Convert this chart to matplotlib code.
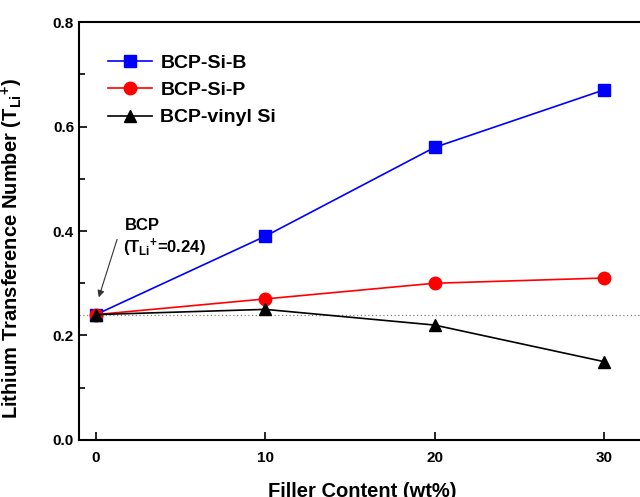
import matplotlib
matplotlib.use("Agg")
import matplotlib.pyplot as plt
from matplotlib.ticker import MultipleLocator

# Data
filler = [0, 10, 20, 30]
si_b = [0.24, 0.39, 0.56, 0.67]
si_p = [0.24, 0.27, 0.30, 0.31]
vinyl_si = [0.24, 0.25, 0.22, 0.15]
bcp_value = 0.24

plt.rcParams['font.family'] = 'Liberation Sans'
plt.rcParams['font.weight'] = 'bold'
plt.rcParams['mathtext.fontset'] = 'custom'
plt.rcParams['mathtext.rm'] = 'Liberation Sans:bold'
plt.rcParams['mathtext.it'] = 'Liberation Sans:bold'
plt.rcParams['mathtext.bf'] = 'Liberation Sans:bold'

fig = plt.figure(figsize=(6.4, 4.97), dpi=100)
# axes run a little past the right edge, like the cropped original
ax = fig.add_axes([0.1234, 0.1147, 0.881, 0.841])

# Reference line for plain BCP
ax.axhline(bcp_value, color='gray', linestyle=(0, (1, 2)), linewidth=0.9)

ax.plot(filler, si_b, color='#0000ff', marker='s', markersize=8, linewidth=1.2, label='BCP-Si-B')
ax.plot(filler, si_p, color='#ff0000', marker='o', markersize=9, linewidth=1.2, label='BCP-Si-P')
ax.plot(filler, vinyl_si, color='black', marker='^', markersize=9, linewidth=1.2, label='BCP-vinyl Si')

ax.set_xlim(-1, 32.3)
ax.set_ylim(0, 0.8)
ax.set_xticks(filler)
ax.yaxis.set_major_locator(MultipleLocator(0.2))
ax.yaxis.set_minor_locator(MultipleLocator(0.1))
ax.tick_params(axis='both', which='both', direction='in', labelsize=11, width=1.2)
ax.tick_params(which='major', length=6)
ax.tick_params(which='minor', length=4)
ax.tick_params(axis='x', pad=8)
ax.yaxis.set_major_formatter(plt.FuncFormatter(lambda v, p: f"{v:.1f}"))
for lbl in ax.get_xticklabels() + ax.get_yticklabels():
    lbl.set_fontweight('bold')
for s in ax.spines.values():
    s.set_linewidth(1.5)

ax.set_xlabel("Filler Content (wt%)", fontsize=14.5, fontweight='bold')
ax.xaxis.set_label_coords(0.502, -0.10)
ax.set_ylabel(r"Lithium Transference Number (T$_{\mathrm{Li}}$$^{+}$)", fontsize=14.5, fontweight='bold')
ax.yaxis.set_label_coords(-0.095, 0.459)

# BCP note and arrow
ax.text(1.7, 0.41, "BCP", fontsize=12, fontweight='bold', va='center')
ax.text(1.6, 0.367, r"(T$_{\mathrm{Li}}$$^{+}$=0.24)", fontsize=12, fontweight='bold', va='center')
ax.annotate("", xy=(0.12, 0.268), xytext=(1.3, 0.389),
            arrowprops=dict(arrowstyle='-|>', color='#333333', linewidth=0.8, mutation_scale=10))

ax.legend(loc='upper left', bbox_to_anchor=(0.02, 0.965), frameon=False,
          handlelength=2.3, handletextpad=0.4, labelspacing=0.5,
          prop={'weight': 'bold', 'size': 14})

fig.savefig("out.png", dpi=100)
